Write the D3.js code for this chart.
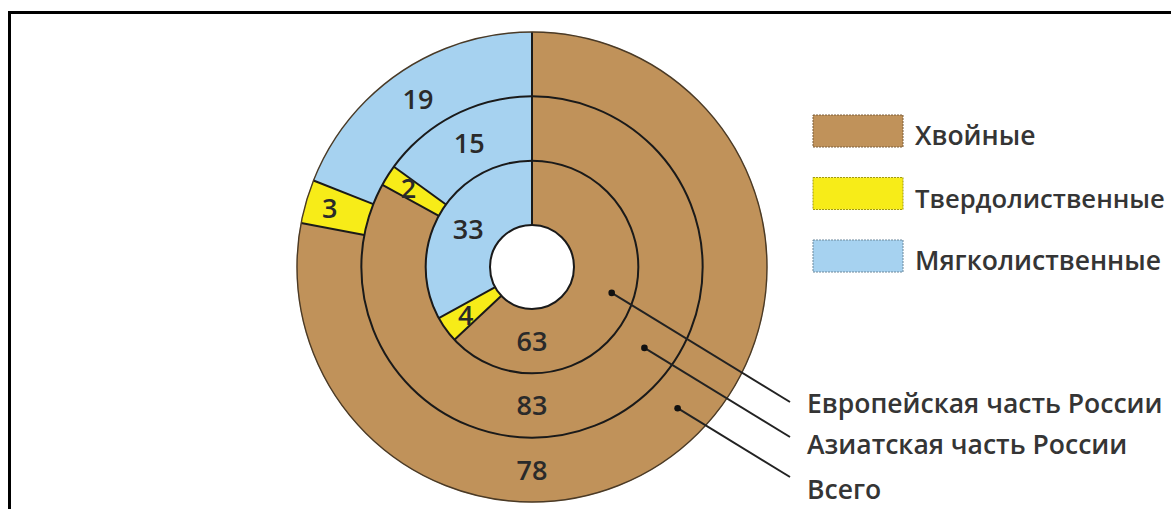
<!DOCTYPE html>
<html>
<head>
<meta charset="utf-8">
<script src="https://cdn.jsdelivr.net/npm/d3@7/dist/d3.min.js"></script>
<style>
  html, body { margin: 0; padding: 0; background: #fff; }
  svg { display: block; }
  text { font-family: "Open Sans", "Noto Sans", sans-serif; }
</style>
</head>
<body>
<svg id="chart" width="1171" height="509"></svg>
<script>
// Forest composition by group of species, % of forested area
const categories = ["Хвойные", "Твердолиственные", "Мягколиственные"];
const ringNames = ["Европейская часть России", "Азиатская часть России", "Всего"];
const europeanValues = [63, 4, 33];
const asianValues = [83, 2, 15];
const totalValues = [78, 3, 19];
const categoryColors = ["#c0925a", "#f7ec18", "#a6d2f0"];

const ringValues = [europeanValues, asianValues, totalValues];

const svg = d3.select("#chart");
const W = 1171, H = 509;
const cx = 532, cy = 267;

// frame
svg.append("rect")
  .attr("x", 9.5).attr("y", 12.5)
  .attr("width", W + 20).attr("height", H + 20)
  .attr("fill", "none").attr("stroke", "#000").attr("stroke-width", 3);

const color = d3.scaleOrdinal().domain(categories).range(categoryColors);

// ring k spans radius(k) .. radius(k + 1)
const radius = d3.scaleLinear().domain([0, ringValues.length]).range([42, 235]);

const pie = d3.pie().sort(null).value(d => d.value)
  .startAngle(0).endAngle(2 * Math.PI);

const g = svg.append("g").attr("transform", `translate(${cx},${cy})`);

const rings = ringValues.map((vals, k) => {
  const arcs = pie(vals.map((v, i) => ({ value: v, category: categories[i] })));
  arcs.forEach(a => { a.inner = radius(k); a.outer = radius(k + 1); a.ring = k; });
  return arcs;
});
const allArcs = rings.flat();

const arc = d3.arc()
  .innerRadius(d => d.inner)
  .outerRadius(d => d.outer);

// filled sectors
g.selectAll("path.sector")
  .data(allArcs)
  .join("path")
  .attr("class", "sector")
  .attr("d", arc)
  .attr("fill", d => color(d.data.category))
  .attr("stroke", d => color(d.data.category))
  .attr("stroke-width", 0.6);

// radial borders between sectors
const borders = allArcs.map(d => ({ angle: d.startAngle, inner: d.inner, outer: d.outer }));
g.selectAll("line.border")
  .data(borders)
  .join("line")
  .attr("class", "border")
  .attr("x1", d => d.inner * Math.sin(d.angle))
  .attr("y1", d => -d.inner * Math.cos(d.angle))
  .attr("x2", d => d.outer * Math.sin(d.angle))
  .attr("y2", d => -d.outer * Math.cos(d.angle))
  .attr("stroke", "#1a1a1a").attr("stroke-width", 2);

// ring circles
const circleRadii = d3.range(ringValues.length + 1).map(k => radius(k));
g.selectAll("circle.ringline")
  .data(circleRadii)
  .join("circle")
  .attr("class", "ringline")
  .attr("r", d => d)
  .attr("fill", (d, i) => i === 0 ? "#fff" : "none")
  .attr("stroke", (d, i) => i === circleRadii.length - 1 ? "#4a3a26" : "#1a1a1a")
  .attr("stroke-width", (d, i) => i === circleRadii.length - 1 ? 1.4 : 2);

// value labels: conifers at the bottom of each ring, others in their sector
const labelPos = d => {
  if (d.index === 0) {
    const r = (d.inner + d.outer) / 2;
    return [0, r];
  }
  const r = d.inner + (d.outer - d.inner) * (d.value < 10 ? 0.62 : 0.5);
  const a = (d.startAngle + d.endAngle) / 2;
  return [r * Math.sin(a), -r * Math.cos(a)];
};
g.selectAll("text.value")
  .data(allArcs)
  .join("text")
  .attr("class", "value")
  .attr("x", d => labelPos(d)[0])
  .attr("y", d => labelPos(d)[1])
  .attr("dy", "0.36em")
  .attr("text-anchor", "middle")
  .attr("font-size", 27)
  .attr("font-weight", 600)
  .attr("fill", "#2a2a2a")
  .text(d => d.value);

// legend
const legendX = 813;
const legendFont = 26.5;
const legend = svg.append("g").attr("transform", `translate(${legendX},115)`);
const legendItems = legend.selectAll("g")
  .data(categories)
  .join("g")
  .attr("transform", (d, i) => `translate(0,${i * 62.5})`);
legendItems.append("rect")
  .attr("width", 90).attr("height", 32)
  .attr("fill", d => color(d))
  .attr("stroke", d => d3.color(color(d)).darker(1.2))
  .attr("stroke-width", 1)
  .attr("stroke-dasharray", "2,1");
legendItems.append("text")
  .attr("x", 102).attr("y", 30)
  .attr("font-size", legendFont)
  .attr("font-weight", 600)
  .attr("fill", "#353535")
  .text(d => d)
  .each(function () {
    // shrink long entries so they stay inside the drawing
    const room = W - legendX - 102 - 6;
    const len = this.getComputedTextLength();
    if (len > room) {
      d3.select(this).attr("font-size", legendFont * room / len);
    }
  });

// ring names with pointers
const nameX = 807;
const nameBaselines = [413, 454, 499];
const pointerOffsets = [11, 17, 22];
const dir = (() => { const dx = -1, dy = -0.612, n = Math.hypot(dx, dy); return [dx / n, dy / n]; })();

ringNames.forEach((name, k) => {
  const ex = nameX - 17, ey = nameBaselines[k] - pointerOffsets[k];
  const px = ex - cx, py = ey - cy;
  const R = radius(k) + (radius(k + 1) - radius(k)) * (k === 0 ? 0.65 : 0.5);
  const pd = px * dir[0] + py * dir[1];
  const t = -pd - Math.sqrt(pd * pd - (px * px + py * py) + R * R);
  const dotX = ex + t * dir[0], dotY = ey + t * dir[1];

  svg.append("line")
    .attr("x1", ex).attr("y1", ey)
    .attr("x2", dotX).attr("y2", dotY)
    .attr("stroke", "#222").attr("stroke-width", 2);
  svg.append("circle")
    .attr("cx", dotX).attr("cy", dotY).attr("r", 3.3)
    .attr("fill", "#111");
  svg.append("text")
    .attr("x", nameX).attr("y", nameBaselines[k])
    .attr("font-size", 26.5)
    .attr("font-weight", 600)
    .attr("fill", "#353535")
    .text(name);
});
</script>
</body>
</html>
